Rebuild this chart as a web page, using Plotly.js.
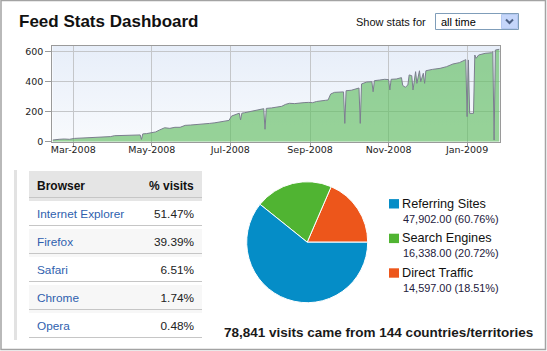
<!DOCTYPE html>
<html>
<head>
<meta charset="utf-8">
<script src="https://cdn.plot.ly/plotly-3.0.1.min.js"></script>
<style>html,body{margin:0;padding:0;background:#fff;}#chart{width:547px;height:351px;}</style>
</head>
<body>
<div id="chart"></div>
<script>
// ---------- data ----------
const visitDates = ['2008-02-14','2008-02-16','2008-02-19','2008-02-23','2008-02-27','2008-03-02','2008-03-06','2008-03-10','2008-03-14','2008-03-18','2008-03-22','2008-03-26','2008-03-30','2008-04-02','2008-04-06','2008-04-10','2008-04-14','2008-04-18','2008-04-22','2008-04-23','2008-04-24','2008-04-27','2008-04-30','2008-05-04','2008-05-07','2008-05-11','2008-05-15','2008-05-19','2008-05-23','2008-05-27','2008-05-31','2008-06-04','2008-06-07','2008-06-11','2008-06-15','2008-06-19','2008-06-23','2008-06-27','2008-06-30','2008-07-02','2008-07-06','2008-07-08','2008-07-09','2008-07-10','2008-07-12','2008-07-16','2008-07-20','2008-07-24','2008-07-27','2008-07-28','2008-07-29','2008-08-02','2008-08-06','2008-08-10','2008-08-13','2008-08-16','2008-08-20','2008-08-24','2008-08-28','2008-08-31','2008-09-03','2008-09-06','2008-09-10','2008-09-13','2008-09-15','2008-09-17','2008-09-20','2008-09-24','2008-09-27','2008-09-28','2008-09-29','2008-10-03','2008-10-07','2008-10-09','2008-10-10','2008-10-11','2008-10-15','2008-10-19','2008-10-20','2008-10-21','2008-10-25','2008-10-29','2008-11-01','2008-11-02','2008-11-03','2008-11-07','2008-11-11','2008-11-12','2008-11-14','2008-11-16','2008-11-17','2008-11-19','2008-11-20','2008-11-22','2008-11-23','2008-11-25','2008-11-26','2008-11-28','2008-11-29','2008-11-30','2008-12-05','2008-12-11','2008-12-16','2008-12-21','2008-12-26','2008-12-30','2008-12-31','2009-01-01','2009-01-02','2009-01-03','2009-01-06','2009-01-07','2009-01-08','2009-01-10','2009-01-15','2009-01-20','2009-01-21','2009-01-22','2009-01-23','2009-01-26'];
const visitCounts = [11,14,16,18,16,22,23,25,26,28,29,30,34,40,42,42,43,43,45,15,52,54,58,65,78,93,89,96,96,109,111,113,116,118,122,126,131,136,142,171,185,190,145,190,193,200,212,216,220,83,222,225,228,236,249,256,254,260,261,262,260,268,270,276,278,318,329,333,332,122,340,343,352,358,122,385,398,400,333,407,411,416,414,345,416,418,427,375,363,378,445,440,345,467,389,473,400,456,389,473,482,489,500,518,527,545,547,167,545,189,189,578,556,578,589,593,600,11,611,616];
const tickDates = ['2008-03-01','2008-05-01','2008-07-01','2008-09-01','2008-11-01','2009-01-01'];
const tickLabels = ['Mar-2008','May-2008','Jul-2008','Sep-2008','Nov-2008','Jan-2009'];
const yTicks = [0, 200, 400, 600];

const browsers = ['Internet Explorer','Firefox','Safari','Chrome','Opera'];
const browserPct = ['51.47%','39.39%','6.51%','1.74%','0.48%'];
const tableHeader = ['Browser', '% visits'];

const sourceLabels = ['Referring Sites','Search Engines','Direct Traffic'];
const sourceVisits = [47902, 16338, 14597];
const sourcePct = ['60.76%','20.72%','18.51%'];
const sourceColors = ['#058DC7','#50B432','#ED561B'];

const totalVisits = '78,841';
const countryCount = 144;

// ---------- helpers ----------
const W = 547, H = 351;
const px = x => x / W;
const py = y => 1 - y / H;
const fmt = v => v.toLocaleString('en-US', {minimumFractionDigits: 2, maximumFractionDigits: 2});
const nb = s => s.replace(/ /g, '\u00a0');
const SANS = 'Liberation Sans, Arial, sans-serif';

// plot area
const PL = 52.3, PR = 500, PT = 45.7, PB = 141.7;

const grad = '<svg xmlns="http://www.w3.org/2000/svg" viewBox="0 0 10 100" width="10" height="100" preserveAspectRatio="none"><defs><linearGradient id="g" x1="0" y1="0" x2="0" y2="1"><stop offset="0" stop-color="#e7eef9"/><stop offset="1" stop-color="#f8fafd"/></linearGradient></defs><rect width="10" height="100" fill="url(#g)"/></svg>';

const traces = [];
traces.push({
  type: 'scatter', mode: 'lines', x: visitDates, y: visitCounts,
  fill: 'tozeroy', fillcolor: 'rgba(100,190,100,0.66)',
  line: {color: '#7b7e8e', width: 1}, hoverinfo: 'skip', showlegend: false,
  xaxis: 'x', yaxis: 'y'
});

// pie: drawn counterclockwise from 3 o'clock: Direct, Search, Referring
const pieOrder = [2, 1, 0];
const pieVals = pieOrder.map(i => sourceVisits[i]);
const pieSum = pieVals.reduce((a, b) => a + b, 0);
traces.push({
  type: 'pie',
  labels: pieOrder.map(i => sourceLabels[i]),
  values: pieVals,
  marker: {colors: pieOrder.map(i => sourceColors[i]), line: {color: '#ffffff', width: 1}},
  sort: false, direction: 'counterclockwise',
  // plotly puts the CCW end of the first slice at `rotation`; shift so it starts at 3 o'clock
  rotation: 90 - 360 * pieVals[0] / pieSum,
  textinfo: 'none', hoverinfo: 'skip', showlegend: false,
  domain: {x: [px(246.7), px(367.7)], y: [py(302.7), py(181.7)]}
});

// table
const HEADER_H = 26, ROW_H = 28, TBL_TOP = 171, TBL_L = 29, TBL_R = 202;
const rowFill = browsers.map((b, i) => i % 2 ? '#f7f7f7' : '#ffffff');
traces.push({
  type: 'table',
  domain: {x: [px(TBL_L), px(TBL_R)], y: [py(TBL_TOP + HEADER_H + ROW_H * browsers.length + 2), py(TBL_TOP)]},
  columnwidth: [108, 65],
  header: {
    values: tableHeader.map(h => '<b>' + nb(h) + '</b>'),
    align: ['left', 'right'], height: HEADER_H,
    fill: {color: '#e5e5e5'}, line: {color: 'rgba(0,0,0,0)', width: 0},
    font: {family: SANS, size: 12, color: '#111111'}
  },
  cells: {
    values: [browsers.map(nb), browserPct],
    align: ['left', 'right'], height: ROW_H,
    fill: {color: [rowFill, rowFill]}, line: {color: 'rgba(0,0,0,0)', width: 0},
    font: {family: SANS, size: 11.8, color: ['#2f5fae', '#222222']}
  }
});

const shapes = [];
const annotations = [];

// outer frame
shapes.push({type: 'rect', xref: 'paper', yref: 'paper', x0: px(1), x1: px(545.5), y0: py(0.5), y1: py(349.5),
  line: {color: '#a3a3a3', width: 1.5}, layer: 'above'});

// title
annotations.push({xref: 'paper', yref: 'paper', x: px(17), y: py(22), xanchor: 'left', yanchor: 'middle', showarrow: false,
  text: '<b>Feed Stats Dashboard</b>', font: {family: SANS, size: 17, color: '#111111'}});

// "Show stats for" selector
annotations.push({xref: 'paper', yref: 'paper', x: px(354), y: py(21.5), xanchor: 'left', yanchor: 'middle', showarrow: false,
  text: 'Show stats for', font: {family: SANS, size: 11, color: '#111111'}});
shapes.push({type: 'rect', xref: 'paper', yref: 'paper', x0: px(435.5), x1: px(518.5), y0: py(13.5), y1: py(29.5),
  fillcolor: '#ffffff', line: {color: '#7f9db9', width: 1}});
shapes.push({type: 'rect', xref: 'paper', yref: 'paper', x0: px(501.5), x1: px(517.5), y0: py(14.5), y1: py(28.5),
  fillcolor: '#c5d6fa', line: {color: '#b4c8f0', width: 1}});
shapes.push({type: 'path', xref: 'paper', yref: 'paper',
  path: `M ${px(506)} ${py(19.5)} L ${px(509.5)} ${py(23)} L ${px(513)} ${py(19.5)}`,
  line: {color: '#4d6185', width: 2}});
annotations.push({xref: 'paper', yref: 'paper', x: px(439), y: py(21.5), xanchor: 'left', yanchor: 'middle', showarrow: false,
  text: 'all time', font: {family: SANS, size: 11, color: '#000000'}});

// left grey bar of the table area
shapes.push({type: 'rect', xref: 'paper', yref: 'paper', x0: px(14), x1: px(17), y0: py(340), y1: py(170),
  fillcolor: '#e2e2e2', line: {width: 0}});

// table row separators
for (let i = 0; i <= browsers.length; i++) {
  const yy = TBL_TOP + HEADER_H + i * ROW_H + 0.5;
  shapes.push({type: 'line', xref: 'paper', yref: 'paper', x0: px(TBL_L), x1: px(TBL_R), y0: py(yy), y1: py(yy),
    line: {color: '#c6c6c6', width: 1}, layer: 'above'});
}

// pie legend
const LEG_X = 389, LEG_Y0 = 203.7, LEG_STEP = 34.6;
sourceLabels.forEach((lab, i) => {
  const cy = LEG_Y0 + i * LEG_STEP;
  shapes.push({type: 'rect', xref: 'paper', yref: 'paper', x0: px(LEG_X), x1: px(LEG_X + 10), y0: py(cy + 4.8), y1: py(cy - 4.6),
    fillcolor: sourceColors[i], line: {width: 0}});
  annotations.push({xref: 'paper', yref: 'paper', x: px(LEG_X + 11), y: py(cy), xanchor: 'left', yanchor: 'middle', showarrow: false,
    text: lab, font: {family: SANS, size: 12.7, color: '#111111'}});
  annotations.push({xref: 'paper', yref: 'paper', x: px(LEG_X + 11.5), y: py(cy + 15), xanchor: 'left', yanchor: 'middle', showarrow: false,
    text: fmt(sourceVisits[i]) + ' (' + sourcePct[i] + ')', font: {family: SANS, size: 10.9, color: '#24203c'}});
});

// summary line
annotations.push({xref: 'paper', yref: 'paper', x: px(378.5), y: py(332.3), xanchor: 'center', yanchor: 'middle', showarrow: false,
  text: '<b>' + totalVisits + ' visits came from ' + countryCount + ' countries/territories</b>',
  font: {family: SANS, size: 13.5, color: '#1a1a1a'}});

const axisFont = {family: 'DejaVu Sans, sans-serif', size: 9.5, color: '#222222'};

const layout = {
  width: W, height: H,
  margin: {l: 0, r: 0, t: 0, b: 0, pad: 0},
  paper_bgcolor: '#ffffff', plot_bgcolor: 'rgba(0,0,0,0)',
  showlegend: false,
  xaxis: {
    type: 'date', domain: [px(PL), px(PR)], range: ['2008-02-13 17:00', '2009-01-26 14:00'],
    tickmode: 'array', tickvals: tickDates, ticktext: tickLabels,
    showgrid: true, gridcolor: '#c4c6c9', gridwidth: 1, zeroline: false,
    ticks: 'outside', ticklen: 3, tickcolor: '#9a9a9a', ticklabelstandoff: -4,
    showline: true, mirror: true, linecolor: '#9a9a9a', linewidth: 1,
    tickfont: axisFont, fixedrange: true
  },
  yaxis: {
    domain: [py(PB), py(PT)], range: [0, 640],
    tickmode: 'array', tickvals: yTicks,
    showgrid: true, gridcolor: '#c4c6c9', gridwidth: 1, zeroline: false,
    ticks: 'outside', ticklen: 6, tickcolor: '#9a9a9a',
    showline: true, mirror: true, linecolor: '#9a9a9a', linewidth: 1,
    tickfont: axisFont, fixedrange: true
  },
  images: [{
    source: 'data:image/svg+xml;charset=utf-8,' + encodeURIComponent(grad),
    xref: 'paper', yref: 'paper', x: px(PL), y: py(PT), sizex: px(PR) - px(PL), sizey: py(PT) - py(PB),
    xanchor: 'left', yanchor: 'top', sizing: 'stretch', layer: 'below'
  }],
  shapes: shapes,
  annotations: annotations
};

Plotly.newPlot('chart', traces, layout, {staticPlot: true, displayModeBar: false});
</script>
</body>
</html>
